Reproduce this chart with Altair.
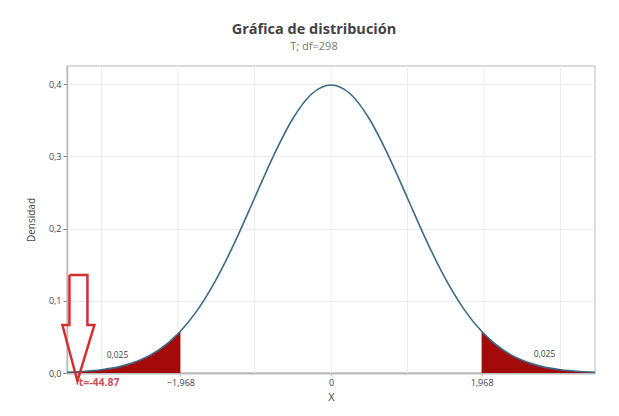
import altair as alt
import pandas as pd

# Density curve (t with df=298)
curve_x = [-3.5, -3.25, -3.0, -2.75, -2.5, -2.25, -2.0, -1.968, -1.75, -1.5, -1.25, -1.0, -0.75,
           -0.5, -0.25, 0.0, 0.25, 0.5, 0.75, 1.0, 1.25, 1.5, 1.75, 1.968, 2.0, 2.25, 2.5,
           2.75, 3.0, 3.25, 3.5]
curve_y = [0.0009, 0.0021, 0.0045, 0.0092, 0.0176, 0.0318, 0.0541, 0.0577, 0.0864, 0.1296,
           0.1826, 0.2419, 0.3010, 0.3520, 0.3866, 0.3987, 0.3866, 0.3520, 0.3010, 0.2419,
           0.1826, 0.1296, 0.0864, 0.0577, 0.0541, 0.0318, 0.0176, 0.0092, 0.0045, 0.0021,
           0.0009]
crit = 1.968

tail_labels = ["0,025", "0,025"]
tail_label_x = [-2.79, 2.79]
tail_label_y = [0.025, 0.026]

grid_x = [-3, -2, -1, 0, 1, 2, 3]
x_ticks = [-1.968, 0, 1.968]
y_ticks = [0.0, 0.1, 0.2, 0.3, 0.4]

# Red arrow annotation (outline polygon in data units)
arrow_x = [-3.418, -3.183, -3.183, -3.092, -3.314, -3.51, -3.418, -3.418]
arrow_y = [0.1357, 0.1357, 0.0664, 0.0664, -0.0111, 0.0664, 0.0664, 0.1357]
t_label = "t=-44.87"
t_label_x = -3.03
t_label_y = -0.0145

curve = pd.DataFrame({"x": curve_x, "y": curve_y})
left_tail = curve[curve["x"] <= -crit + 1e-9]
right_tail = curve[curve["x"] >= crit - 1e-9]
labels = pd.DataFrame({"x": tail_label_x, "y": tail_label_y, "t": tail_labels})
grid = pd.DataFrame({"x": grid_x})
arrow = pd.DataFrame({"x": arrow_x, "y": arrow_y, "o": list(range(len(arrow_x)))})
tlab = pd.DataFrame({"x": [t_label_x], "y": [t_label_y], "t": [t_label]})

xs = alt.Scale(domain=[-3.45, 3.45], nice=False, zero=False)
ys = alt.Scale(domain=[0, 0.425], nice=False)

font = "Open Sans"

xaxis = alt.Axis(values=x_ticks, title="X", grid=False,
                 labelExpr="replace(format(datum.value, '.3~f'), '.', ',')",
                 labelFont=font, labelFontSize=9, labelColor="#444",
                 titleFont=font, titleFontSize=11, titleFontWeight="normal", titleColor="#444",
                 titlePadding=4, domainColor="#bbbbbb", domainWidth=2,
                 tickColor="#bbbbbb", tickSize=3, labelPadding=2)
yaxis = alt.Axis(values=y_ticks, title="Densidad", gridColor="#ececec",
                 labelExpr="replace(format(datum.value, '.1f'), '.', ',')",
                 labelFont=font, labelFontSize=9, labelColor="#444",
                 titleFont=font, titleFontSize=10, titleFontWeight="normal", titleColor="#444",
                 titlePadding=12, domainColor="#bbbbbb", domainWidth=1.5,
                 tickColor="#888888", tickSize=4)

gridlayer = alt.Chart(grid).mark_rule(color="#ececec", strokeWidth=1).encode(
    x=alt.X("x:Q", scale=xs, axis=xaxis))

area_l = alt.Chart(left_tail).mark_area(color="#a30b0b", interpolate="monotone", clip=True).encode(
    x=alt.X("x:Q", scale=xs), y=alt.Y("y:Q", scale=ys, axis=yaxis))
area_r = alt.Chart(right_tail).mark_area(color="#a30b0b", interpolate="monotone", clip=True).encode(
    x=alt.X("x:Q", scale=xs), y=alt.Y("y:Q", scale=ys))

line = alt.Chart(curve).mark_line(color="#3d6a86", strokeWidth=1.6, interpolate="monotone",
                                  clip=True).encode(
    x=alt.X("x:Q", scale=xs), y=alt.Y("y:Q", scale=ys))

txt = alt.Chart(labels).mark_text(font=font, fontSize=8.5, color="#444").encode(
    x=alt.X("x:Q", scale=xs), y=alt.Y("y:Q", scale=ys), text="t:N")

arrow_layer = alt.Chart(arrow).mark_line(color="#d42e2e", strokeWidth=2.5, strokeJoin="miter").encode(
    x=alt.X("x:Q", scale=xs), y=alt.Y("y:Q", scale=ys), order="o:Q")

tlab_layer = alt.Chart(tlab).mark_text(font=font, fontSize=10.5, fontWeight="bold",
                                       color="#d0505a").encode(
    x=alt.X("x:Q", scale=xs), y=alt.Y("y:Q", scale=ys), text="t:N")

chart = alt.layer(gridlayer, area_l, area_r, line, txt, arrow_layer, tlab_layer).properties(
    width=528, height=307,
    title=alt.TitleParams("Gráfica de distribución", subtitle="T; df=298",
                          font=font, fontSize=14.5, fontWeight="bold", color="#444",
                          subtitleFont=font, subtitleFontSize=11, subtitleColor="#777",
                          subtitlePadding=3, anchor="middle", dx=-17, offset=13),
    autosize=alt.AutoSizeParams(type="none"),
    padding={"left": 59, "top": 58, "right": 16, "bottom": 30},
).configure_view(stroke="#cfcfcf", strokeWidth=1.5)

chart.save("out.html", embed_options={"renderer": "svg", "actions": False})
